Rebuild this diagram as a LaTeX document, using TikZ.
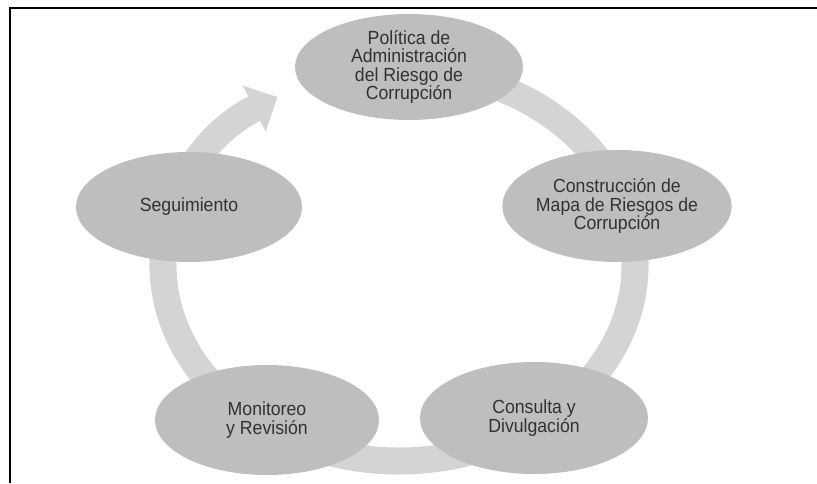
\documentclass[tikz,border=0pt]{standalone}
\usepackage{fontspec}
\setmainfont{Liberation Sans}[FakeStretch=0.93]
\usetikzlibrary{shapes.geometric,arrows.meta}
\definecolor{blobgray}{RGB}{190,190,193}
\definecolor{ringgray}{RGB}{212,212,214}
\definecolor{txtgray}{RGB}{50,50,52}
\tikzset{
  blob/.style={ellipse, fill=blobgray, inner sep=0pt, align=center, text=txtgray,
    font=\fontsize{19}{18.5}\selectfont},
  ring/.style={ringgray, line width=27pt, -{Triangle[length=26pt,width=50pt]}}
}
\begin{document}
\begin{tikzpicture}[x=1pt,y=1pt]
\useasboundingbox (0,0) rectangle (817,483);
\fill[white] (0,0) rectangle (817,483);
\draw[line width=2pt] (10,0) -- (10,475) -- (817,475);
\coordinate (ringc) at (399,218);
\draw[ring] (ringc) ++(100:236pt and 196pt) arc[start angle=100,end angle=-239,x radius=236pt,y radius=196pt];
\node[blob, minimum width=228pt, minimum height=106pt] (pol) at (409,416) {Política de\\Administración\\del Riesgo de\\Corrupción};
\node[blob, minimum width=225pt, minimum height=112pt] (con) at (617,277) {Construcción de\\Mapa de Riesgos de\\Corrupción};
\node[blob, minimum width=228pt, minimum height=112pt] (cons) at (534,65) {Consulta y\\Divulgación};
\node[blob, minimum width=224pt, minimum height=110pt] (mon) at (267,63) {Monitoreo\\y Revisión};
\node[blob, minimum width=226pt, minimum height=110pt] (seg) at (189,276) {Seguimiento};
\end{tikzpicture}
\end{document}
